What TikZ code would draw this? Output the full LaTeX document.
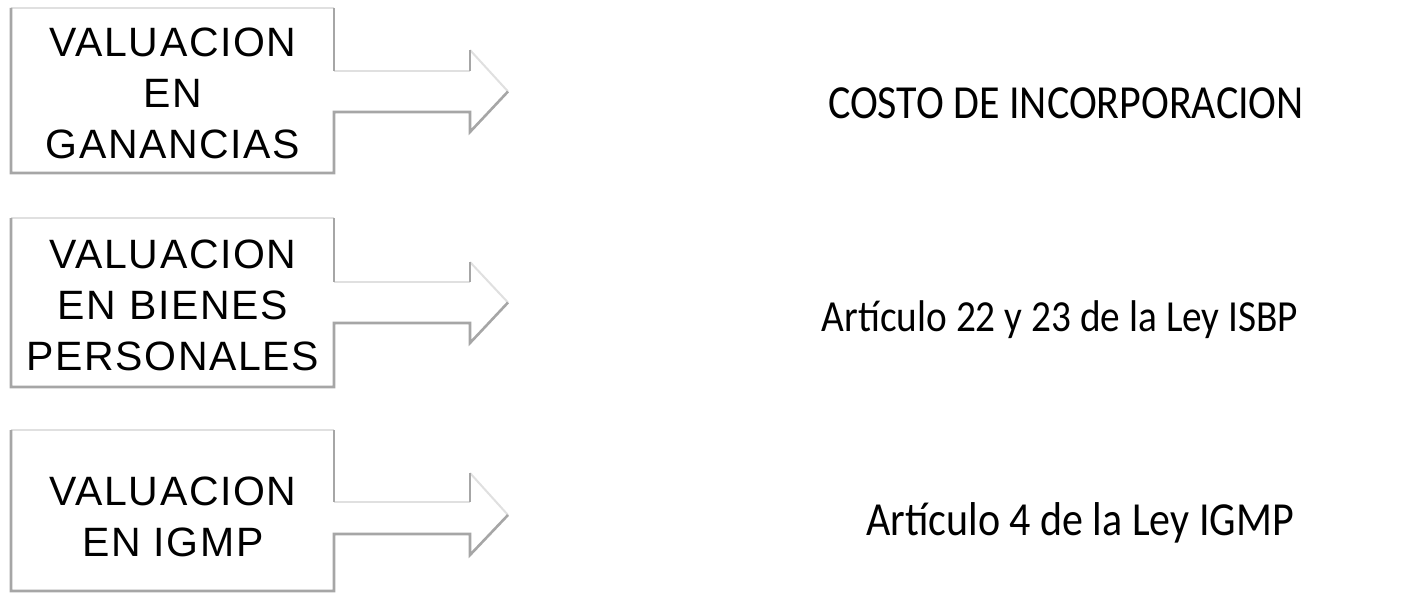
\documentclass[tikz,border=0pt]{standalone}
\usepackage{fontspec}
\setmainfont{Liberation Sans}[LetterSpace=4]
\newfontfamily\calib{Carlito}
\newcommand\tallt[1]{\scalebox{1}[1.13]{#1}}
\begin{document}
\begin{tikzpicture}[x=1pt,y=-1pt,
  lightedge/.style={draw=black!12,line width=2pt,line join=miter},
  darkedge/.style={draw=black!35,line width=2.6pt,line join=miter},
  boxtext/.style={align=center,font=\fontsize{41}{51}\selectfont,inner sep=0pt},
  restext/.style={anchor=base,font=\calib\fontsize{42}{50}\selectfont,inner sep=0pt}]
\useasboundingbox (0,0) rectangle (1416,594);
\newcommand\valbox[7]{%
 \fill[white] (11,#1) -- (334,#1) -- (334,#3) -- (470,#3) -- (470,#5) -- (508,#7) -- (470,#6) -- (470,#4) -- (334,#4) -- (334,#2) -- (11,#2) -- cycle;
 \draw[lightedge] (11,#1) -- (334,#1);
 \draw[lightedge] (334,#3) -- (470,#3);
 \draw[lightedge] (470,#5) -- (508,#7);
 \draw[darkedge] (334,#1) -- (334,#3);
 \draw[darkedge] (470,#3) -- (470,#5);
 \draw[darkedge] (508,#7) -- (470,#6) -- (470,#4) -- (334,#4) -- (334,#2) -- (11,#2) -- (11,#1);
}
\valbox{8}{173}{71}{112}{50}{132}{91.5}
\valbox{218}{387}{282}{323}{262}{343}{302.5}
\valbox{430}{591}{502}{534}{473}{555}{515}
\node[boxtext] (b1) at (173,93) {VALUACION\\EN\\GANANCIAS};
\node[boxtext] (b2) at (173,305) {VALUACION\\EN BIENES\\PERSONALES};
\node[boxtext] (b3) at (173,517) {VALUACION\\EN IGMP};
\node[restext] (t1) at (1066,118) {\tallt{COSTO DE INCORPORACION}};
\node[restext,font=\calib\fontsize{39.3}{48}\selectfont] (t2) at (1060,331) {\tallt{Artículo 22 y 23 de la Ley ISBP}};
\node[restext] (t3) at (1080,535) {\tallt{Artículo 4 de la Ley IGMP}};
\end{tikzpicture}
\end{document}
